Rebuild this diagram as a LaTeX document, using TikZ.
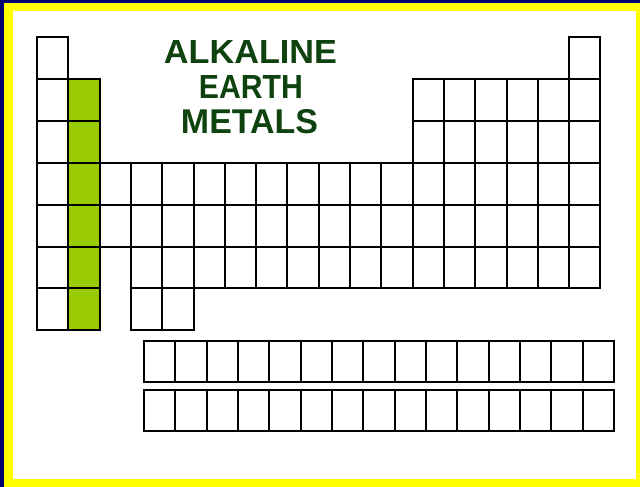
\documentclass[tikz,border=0pt]{standalone}
\usepackage{fontspec}
\usepackage{graphicx}
\setmainfont{Liberation Sans}
\definecolor{framenavy}{RGB}{0,0,112}
\definecolor{frameyellow}{RGB}{255,255,0}
\definecolor{groupgreen}{RGB}{153,204,0}
\definecolor{titlegreen}{RGB}{14,66,14}
\begin{document}
\begin{tikzpicture}[x=1pt,y=-1pt,
  cell/.style={draw=black,line width=2pt,fill=white,inner sep=0pt,outer sep=0pt,
    minimum width=31.3pt,minimum height=41.86pt,anchor=north west},
  gcell/.style={cell,fill=groupgreen},
  fcell/.style={draw=black,line width=2pt,fill=white,inner sep=0pt,outer sep=0pt,
    minimum width=31.33pt,minimum height=41.4pt,anchor=north west},
  title/.style={inner sep=0pt,text=titlegreen,font=\bfseries}]
% frame
\fill[framenavy] (0,0) rectangle (640,487);
\fill[frameyellow] (4,3) rectangle (640,487);
\fill[white] (13,11) rectangle (636,479);
\useasboundingbox (0,0) rectangle (640,487);
% main table
\def\cx#1{37+(#1-1)*31.3}
\def\ry#1{37.3+(#1-1)*41.86}
% row 1
\node[cell] (c-1-1) at ({\cx{1}},{\ry{1}}) {};
\node[cell] (c-1-18) at ({\cx{18}},{\ry{1}}) {};
% rows 2,3
\foreach \r in {2,3}{
  \node[cell] (c-\r-1) at ({\cx{1}},{\ry{\r}}) {};
  \node[gcell] (c-\r-2) at ({\cx{2}},{\ry{\r}}) {};
  \foreach \c in {13,...,18}{
    \node[cell] (c-\r-\c) at ({\cx{\c}},{\ry{\r}}) {};
  }
}
% rows 4,5
\foreach \r in {4,5}{
  \node[cell] (c-\r-1) at ({\cx{1}},{\ry{\r}}) {};
  \node[gcell] (c-\r-2) at ({\cx{2}},{\ry{\r}}) {};
  \foreach \c in {3,...,18}{
    \node[cell] (c-\r-\c) at ({\cx{\c}},{\ry{\r}}) {};
  }
}
% row 6
\node[cell] (c-6-1) at ({\cx{1}},{\ry{6}}) {};
\node[gcell] (c-6-2) at ({\cx{2}},{\ry{6}}) {};
\foreach \c in {4,...,18}{
  \node[cell] (c-6-\c) at ({\cx{\c}},{\ry{6}}) {};
}
% row 7
\node[cell] (c-7-1) at ({\cx{1}},{\ry{7}}) {};
\node[gcell] (c-7-2) at ({\cx{2}},{\ry{7}}) {};
\node[cell] (c-7-4) at ({\cx{4}},{\ry{7}}) {};
\node[cell] (c-7-5) at ({\cx{5}},{\ry{7}}) {};
% f-block rows
\foreach \c in {1,...,15}{
  \node[fcell] (f-1-\c) at ({144+(\c-1)*31.33},341) {};
  \node[fcell] (f-2-\c) at ({144+(\c-1)*31.33},390) {};
}
% title
\node[title] (t1) at (250.5,51.5) {\resizebox{173pt}{23pt}{ALKALINE}};
\node[title] (t2) at (251,86.5) {\resizebox{104pt}{23pt}{EARTH}};
\node[title] (t3) at (249.5,122) {\resizebox{137pt}{24pt}{METALS}};
\end{tikzpicture}
\end{document}
